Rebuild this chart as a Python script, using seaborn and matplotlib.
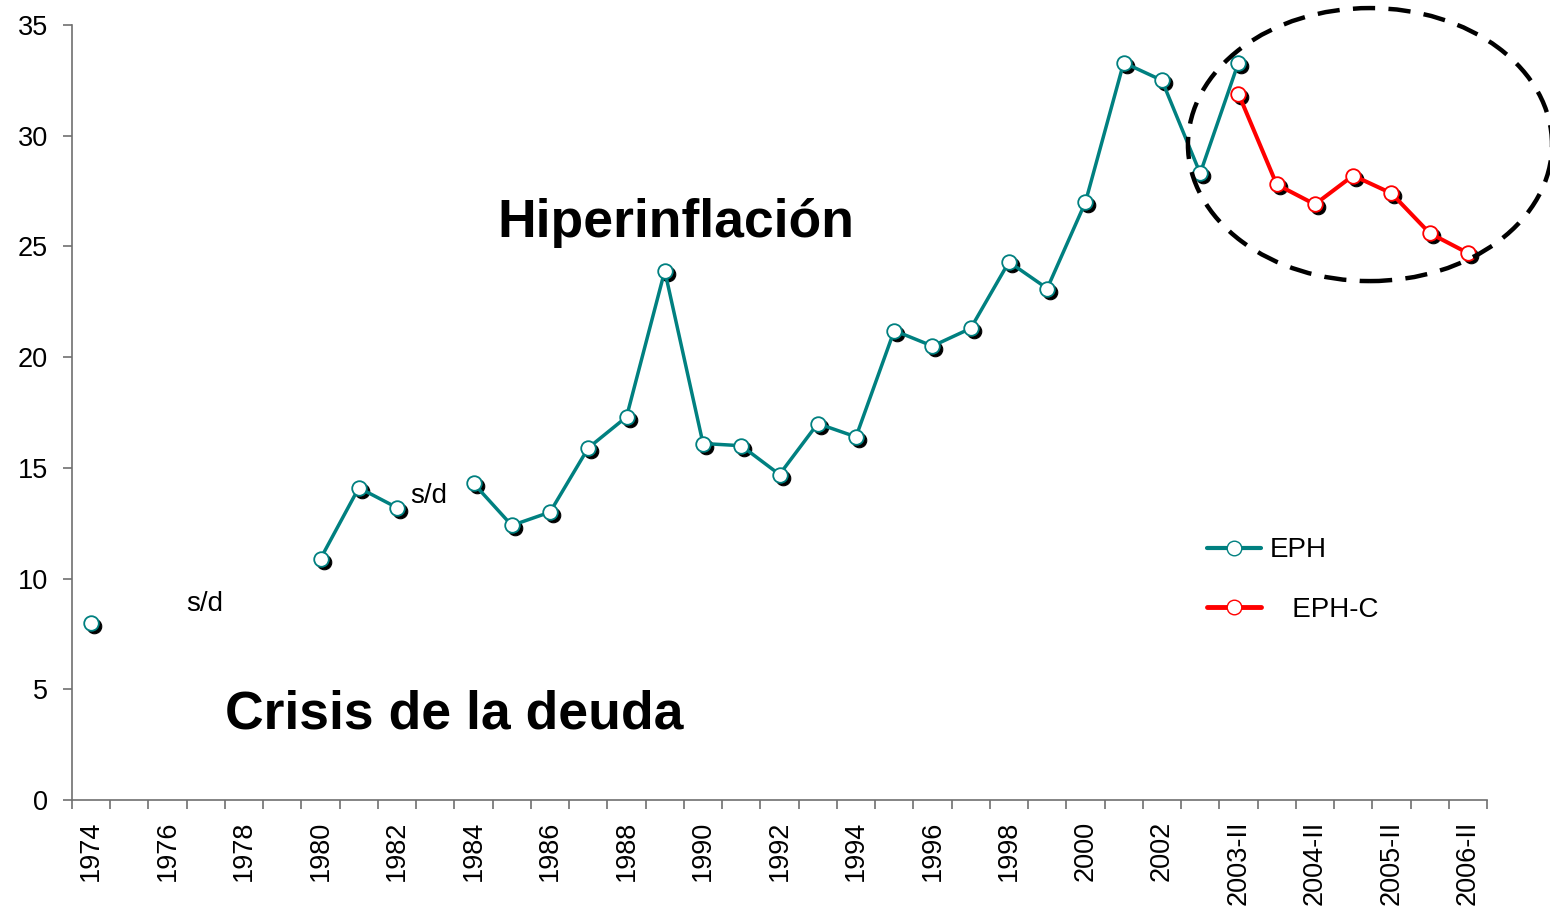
import matplotlib
matplotlib.use("Agg")
import matplotlib.pyplot as plt
import matplotlib.transforms as mtransforms
from matplotlib.patches import Ellipse
from matplotlib.lines import Line2D
import numpy as np
import pandas as pd
import seaborn as sns

# --- data -------------------------------------------------------------
years = [str(y) for y in range(1974, 2004)]
semesters = ["2003-II", "2004-I", "2004-II", "2005-I", "2005-II", "2006-I", "2006-II"]
categories = years + semesters

# EPH (annual 1974-2003 + 2003-II), None = sin dato
eph_values = [8.0, None, None, None, None, None, 10.9, 14.1, 13.2, None,
              14.3, 12.4, 13.0, 15.9, 17.3, 23.9, 16.1, 16.0, 14.7, 17.0,
              16.4, 21.2, 20.5, 21.3, 24.3, 23.1, 27.0, 33.3, 32.5, 28.3,
              33.3]
# EPH-C (semesters)
ephc_values = [31.9, 27.8, 26.9, 28.2, 27.4, 25.6, 24.7]

tick_labels = categories[::2]

TEAL = "#008080"
RED = "#FF0000"


def build_frame(values, start, name):
    rows = []
    seg = 0
    for i, v in enumerate(values):
        if v is None:
            seg += 1
            continue
        rows.append({"pos": start + i, "value": v, "seg": f"{name}{seg}"})
    return pd.DataFrame(rows)


eph = build_frame(eph_values, 0, "eph")
ephc = build_frame(ephc_values, len(years), "ephc")

# --- figure -----------------------------------------------------------
sns.set_theme(style="white")
plt.rcParams["font.family"] = ["Liberation Sans", "DejaVu Sans"]
plt.rcParams["text.color"] = "black"
plt.rcParams["xtick.color"] = "black"
plt.rcParams["ytick.color"] = "black"

fig = plt.figure(figsize=(15.5, 9.18), dpi=100)
ax = fig.add_axes([72 / 1550, 1 - 800 / 918, 1415 / 1550, 775 / 918])

shadow = mtransforms.offset_copy(ax.transData, fig=fig, x=3, y=-3, units="dots")

for df, color, lw in [(eph, TEAL, 2.5), (ephc, RED, 2.9)]:
    sns.lineplot(data=df, x="pos", y="value", units="seg", estimator=None,
                 ax=ax, color="black", linestyle="", marker="o",
                 markersize=10.5, markeredgecolor="black", transform=shadow,
                 zorder=2, legend=False)
    sns.lineplot(data=df, x="pos", y="value", units="seg", estimator=None,
                 ax=ax, color=color, linewidth=lw, marker="o", markersize=10.5,
                 markerfacecolor="white", markeredgecolor=color,
                 markeredgewidth=1.3, zorder=3, legend=False)

ax.add_patch(Ellipse((33.44, 29.6), 9.52, 12.33, fill=False, edgecolor="black",
                     linewidth=3.2, linestyle=(0, (5, 3)), clip_on=False,
                     zorder=4))

ax.set_xlim(-0.5, len(categories) - 0.5)
ax.set_ylim(0, 35)
ax.set_yticks(range(0, 36, 5))
ax.set_xticks(range(0, len(categories), 2))
ax.set_xticklabels(tick_labels, rotation=90, va="top", ha="center")
ax.set_xticks(np.arange(-0.5, len(categories), 1), minor=True)
ax.set_xlabel("")
ax.set_ylabel("")

ax.tick_params(axis="x", which="major", length=0, pad=15, labelsize=19.5,
               labelcolor="black")
ax.tick_params(axis="x", which="minor", length=6.5, width=1.2,
               color="#707070", direction="out", bottom=True)
ax.tick_params(axis="y", length=6.5, width=1.2, color="#707070",
               direction="out", left=True, pad=11, labelsize=19.5,
               labelcolor="black")

sns.despine(ax=ax)
for side in ("left", "bottom"):
    ax.spines[side].set_color("#707070")
    ax.spines[side].set_linewidth(1.2)

ax.text(15.3, 25.43, "Hiperinflación", fontsize=38.5, fontweight="bold",
        ha="center", va="baseline", color="black")
ax.text(9.5, 3.25, "Crisis de la deuda", fontsize=38.5, fontweight="bold",
        ha="center", va="baseline", color="black")
ax.text(2.98, 8.54, "s/d", fontsize=20, ha="center", va="baseline",
        color="black")
ax.text(8.84, 13.41, "s/d", fontsize=20, ha="center", va="baseline",
        color="black")

handles = [
    Line2D([], [], color=TEAL, linewidth=3, marker="o", markersize=10.5,
           markerfacecolor="white", markeredgecolor=TEAL),
    Line2D([], [], color=RED, linewidth=3.5, marker="o", markersize=10.5,
           markerfacecolor="white", markeredgecolor=RED),
]
leg = ax.legend(handles, ["EPH", "   EPH-C"], loc="upper left",
                bbox_to_anchor=(0.802, 0.339), frameon=False, fontsize=20,
                borderpad=0, borderaxespad=0, handlelength=1.95,
                handletextpad=0.3, labelspacing=1.2)
for t in leg.get_texts():
    t.set_color("black")

fig.savefig("out.png", dpi=100)
